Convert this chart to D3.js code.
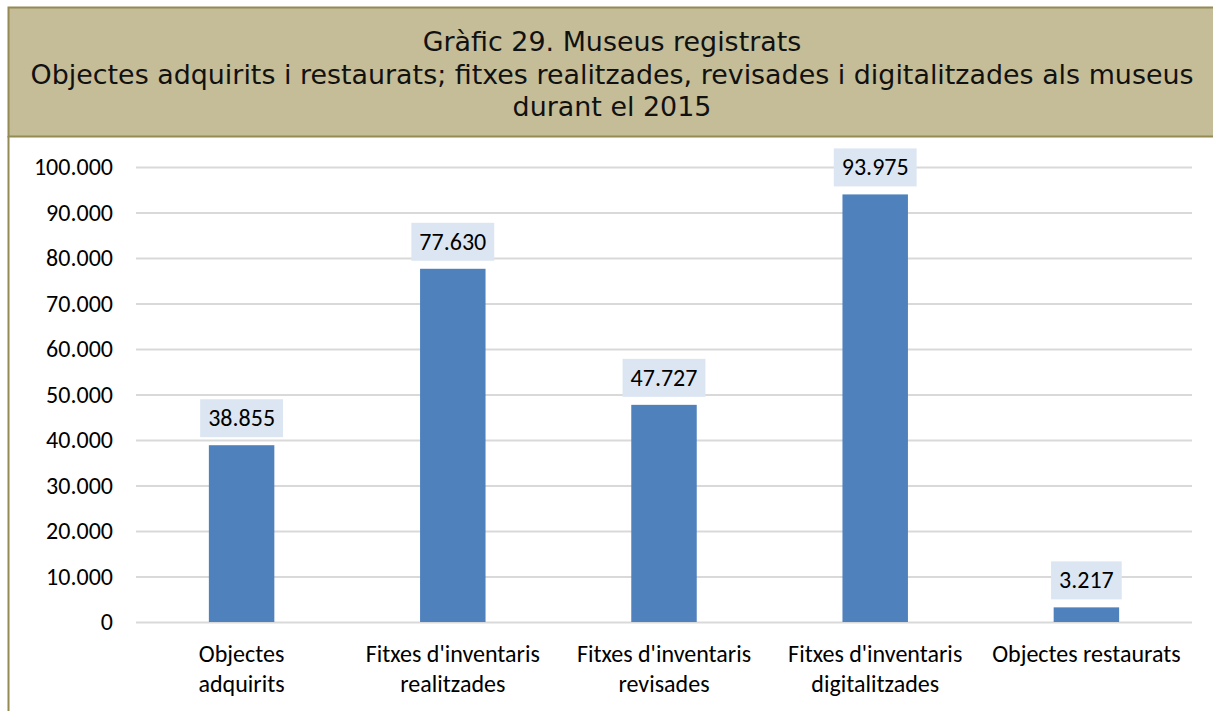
<!DOCTYPE html>
<html>
<head>
<meta charset="utf-8">
<script src="https://cdn.jsdelivr.net/npm/d3@7"></script>
<style>
  html, body { margin: 0; padding: 0; background: #fff; }
  svg { display: block; }
</style>
</head>
<body>
<div id="chart"></div>
<script>
// data
var categories = [
  ["Objectes", "adquirits"],
  ["Fitxes d'inventaris", "realitzades"],
  ["Fitxes d'inventaris", "revisades"],
  ["Fitxes d'inventaris", "digitalitzades"],
  ["Objectes restaurats"]
];
var values = [38855, 77630, 47727, 93975, 3217];
var yTicks = [0, 10000, 20000, 30000, 40000, 50000, 60000, 70000, 80000, 90000, 100000];
var titleLines = [
  "Gràfic 29. Museus registrats",
  "Objectes adquirits i restaurats; fitxes realitzades, revisades i digitalitzades als museus",
  "durant el 2015"
];

var W = 1213, H = 711;
var labelFont = "Carlito, Calibri, Lato, sans-serif";

var svg = d3.select("#chart").append("svg")
  .attr("width", W)
  .attr("height", H);

// frame: title box + left border
svg.append("rect")
  .attr("x", 8.5).attr("y", 7.5)
  .attr("width", W + 10).attr("height", 129)
  .attr("fill", "#c4bd97")
  .attr("stroke", "#948a54")
  .attr("stroke-width", 2);
svg.append("line")
  .attr("x1", 8.5).attr("x2", 8.5)
  .attr("y1", 136).attr("y2", H)
  .attr("stroke", "#948a54")
  .attr("stroke-width", 2);

var title = svg.append("text")
  .attr("text-anchor", "middle")
  .style("font-family", "'DejaVu Sans', Verdana, sans-serif")
  .style("font-size", "26.9px")
  .style("fill", "#111");
title.selectAll("tspan")
  .data(titleLines)
  .enter().append("tspan")
  .attr("x", 612)
  .attr("y", function(d, i) { return 51 + i * 32.5; })
  .text(function(d) { return d; });

var x = d3.scaleBand()
  .domain(d3.range(values.length))
  .range([136, 1192])
  .paddingInner(0.69)
  .paddingOuter(0.345);

var y = d3.scaleLinear()
  .domain([0, 100000])
  .range([622, 167]);

var fmt = function(v) {
  return d3.format(",")(v).replace(/,/g, ".");
};

// gridlines
var yAxis = d3.axisLeft(y)
  .tickValues(yTicks)
  .tickSize(-(1192 - 136))
  .tickPadding(23)
  .tickFormat(fmt);

var gy = svg.append("g")
  .attr("transform", "translate(136,0)")
  .call(yAxis);
gy.select(".domain").remove();
gy.selectAll(".tick line")
  .attr("stroke", "#d9d9d9")
  .attr("stroke-width", 2);
gy.selectAll(".tick text")
  .style("font-family", labelFont)
  .style("font-size", "24px")
  .style("fill", "#000");

// bars
svg.append("g").selectAll("rect")
  .data(values)
  .enter().append("rect")
  .attr("x", function(d, i) { return x(i); })
  .attr("y", function(d) { return y(d); })
  .attr("width", x.bandwidth())
  .attr("height", function(d) { return y(0) - y(d); })
  .attr("fill", "#4f81bd");

// data labels with boxes
var lab = svg.append("g").selectAll("g")
  .data(values)
  .enter().append("g")
  .attr("transform", function(d, i) {
    return "translate(" + (x(i) + x.bandwidth() / 2) + "," + (y(d) - 8) + ")";
  });
lab.append("text")
  .attr("text-anchor", "middle")
  .attr("y", -11)
  .style("font-family", labelFont)
  .style("font-size", "24px")
  .style("fill", "#000")
  .text(fmt);
lab.insert("rect", "text")
  .each(function() {
    var t = d3.select(this.parentNode).select("text").node();
    var w = t.getComputedTextLength() + 16;
    d3.select(this)
      .attr("x", -w / 2)
      .attr("y", -38)
      .attr("width", w)
      .attr("height", 38)
      .attr("fill", "#dce6f2");
  });

// category labels
var gx = svg.append("g").selectAll("text")
  .data(categories)
  .enter().append("text")
  .attr("text-anchor", "middle")
  .style("font-family", labelFont)
  .style("font-size", "24px")
  .style("fill", "#000");
gx.selectAll("tspan")
  .data(function(d, i) { return d.map(function(s) { return {s: s, i: i}; }); })
  .enter().append("tspan")
  .attr("x", function(d) { return x(d.i) + x.bandwidth() / 2; })
  .attr("y", function(d, j) { return 662 + j * 30; })
  .text(function(d) { return d.s; });
</script>
</body>
</html>
